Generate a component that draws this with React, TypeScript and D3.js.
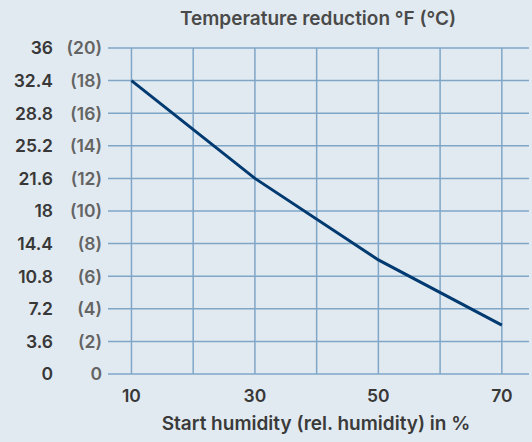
import React from "react";
import { scaleLinear, line, curveLinear } from "d3";

const humidity = [10, 30, 50, 70];
const reductionC = [18, 12, 7, 3];
const xGrid = [10, 20, 30, 40, 50, 60, 70];
const xTickLabels = [10, 30, 50, 70];
const yTicksF = ["0", "3.6", "7.2", "10.8", "14.4", "18", "21.6", "25.2", "28.8", "32.4", "36"];
const yTicksC = ["0", "(2)", "(4)", "(6)", "(8)", "(10)", "(12)", "(14)", "(16)", "(18)", "(20)"];

const width = 532;
const height = 442;
const marginTop = 48;
const marginLeft = 108;
const marginRight = 3;
const plotBottom = 374;

const App: React.FC = () => {
  const x = scaleLinear().domain([6.2, 74.4]).range([marginLeft, width - marginRight]);
  const y = scaleLinear().domain([0, 20]).range([plotBottom, marginTop]);
  const cVals = yTicksC.map((_, i) => i * 2);

  const path = line<number>()
    .x((_, i) => x(humidity[i]))
    .y((d) => y(d))
    .curve(curveLinear)(reductionC);

  const font = "Inter, 'Noto Sans', sans-serif";
  const grid = "#7fa6c7";

  return (
    <div style={{ position: "fixed", left: 0, top: 0 }}>
      <svg width={width} height={height} style={{ display: "block", fontFamily: font }}>
        <rect width={width} height={height} fill="#e2eaf1" />
        {cVals.map((v) => (
          <line key={"h" + v} x1={marginLeft} x2={width - marginRight} y1={y(v)} y2={y(v)} stroke={grid} strokeWidth={1.5} />
        ))}
        {xGrid.map((v) => (
          <line key={"v" + v} x1={x(v)} x2={x(v)} y1={marginTop} y2={plotBottom} stroke={grid} strokeWidth={1.5} />
        ))}
        <path d={path ?? ""} fill="none" stroke="#003a70" strokeWidth={3} />
        {yTicksF.map((t, i) => (
          <text key={"f" + t} x={53} y={y(cVals[i])} dy="0.36em" textAnchor="end" fontSize={17.5} fontWeight={600} fill="#383838">
            {t}
          </text>
        ))}
        {yTicksC.map((t, i) => (
          <text key={"c" + t} x={102} y={y(cVals[i])} dy="0.36em" textAnchor="end" fontSize={17.5} fontWeight={600} fill="#646464">
            {t}
          </text>
        ))}
        {xTickLabels.map((t) => (
          <text key={"x" + t} x={x(t)} y={401.5} textAnchor="middle" fontSize={17.5} fontWeight={600} fill="#383838">
            {t}
          </text>
        ))}
        <text x={318} y={25} textAnchor="middle" fontSize={19} fontWeight={600} fill="#4a4a4a">
          Temperature reduction °F (°C)
        </text>
        <text x={316} y={429.5} textAnchor="middle" fontSize={19} fontWeight={600} fill="#3a3a3a">
          Start humidity (rel. humidity) in %
        </text>
      </svg>
    </div>
  );
};

export default App;
